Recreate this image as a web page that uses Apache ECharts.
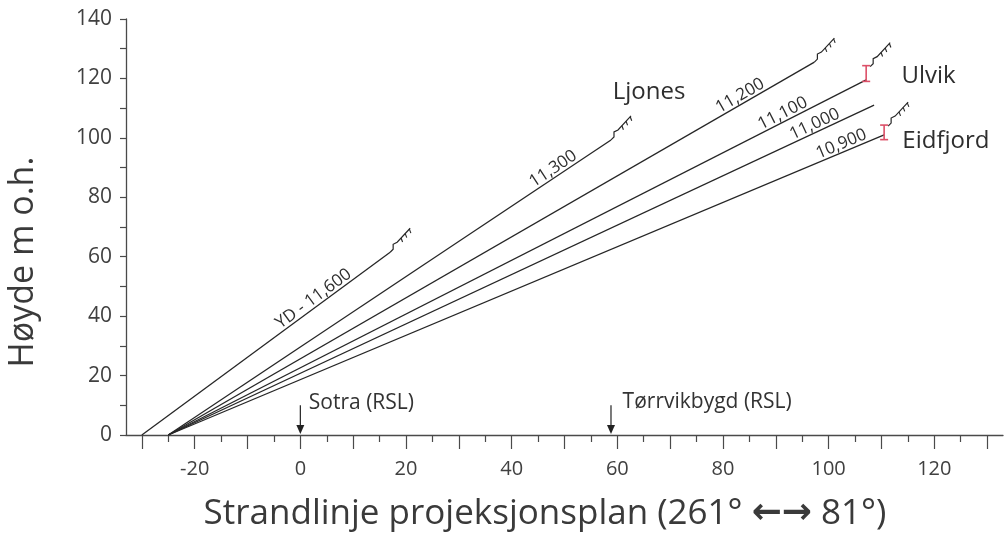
<!DOCTYPE html>
<html><head><meta charset="utf-8">
<script src="https://cdn.jsdelivr.net/npm/echarts@6/dist/echarts.min.js"></script>
<style>html,body{margin:0;padding:0;background:#fff}#c{width:1005px;height:535px}</style>
</head><body><div id="c"></div>
<script>
// ---- data ----
const lineNames = ['YD - 11,600', '11,300', '11,200', '11,100', '11,000', '10,900'];
const lineStartX = [-30, -25, -25, -25, -25, -25];
const lineEndX = [17, 58.8, 97.3, 107.1, 108.6, 110.5];
const lineEndY = [61.5, 99.3, 125.5, 119.5, 111, 101];
const lineLabelX = [3.4, 48.7, 84, 92, 98, 103];

const errX = [107.1, 110.5];
const errLow = [119, 99.4];
const errHigh = [124.3, 104.3];

const moraineX = [17, 58.8, 97.3, 107.1, 110.5];
const moraineY = [61.5, 99.3, 125.5, 124.3, 104.3];

const siteNames = ['Ljones', 'Ulvik', 'Eidfjord'];
const siteX = [66, 118.9, 122.2];
const siteY = [115.4, 120.8, 99];

const rslNames = ['Sotra (RSL)', 'Tørrvikbygd (RSL)'];
const rslX = [0, 58.8];
const rslArrowTop = 10;
const rslTextX = [1.6, 61];
const rslTextY = [10.9, 11.1];

const xTicksMajor = [-30, -20, -10, 0, 10, 20, 30, 40, 50, 60, 70, 80, 90, 100, 110, 120, 130];
const xTicksMinor = [-25, -15, -5, 5, 15, 25, 35, 45, 55, 65, 75, 85, 95, 105, 115, 125];
const xTickLabels = [-20, 0, 20, 40, 60, 80, 100, 120];
const yTickLabels = [0, 20, 40, 60, 80, 100, 120, 140];

const xTitleA = 'Strandlinje projeksjonsplan (261° ';
const xTitleArrows = '\u2190\u2192';
const xTitleB = ' 81°)';
const yTitle = 'Høyde m o.h.';

// ---- styles ----
const FONT = '"Open Sans", "Noto Sans", sans-serif';
const AX = '#4a4a4a';
const LINE = '#262626';
const RED = '#dc5068';

const chart = echarts.init(document.getElementById('c'), null, {renderer: 'canvas'});

const lineSeries = lineNames.map((n, i) => ({
  type: 'line', name: n, silent: true, symbol: 'none', animation: false,
  data: [[lineStartX[i], 0], [lineEndX[i], lineEndY[i]]],
  lineStyle: {color: LINE, width: 1.3}, z: 3
}));

function moraineShape(p) {
  const pts = [[0,0],[3,-3],[3,-8],[7,-10],[20,-24]].map(q => [p[0]+q[0], p[1]+q[1]]);
  const children = [{type: 'polyline', shape: {points: pts}, style: {stroke: LINE, lineWidth: 1.2, fill: null}}];
  const a = pts[3], b = pts[4];
  [0.3, 0.62, 0.94].forEach(t => {
    const x = a[0] + (b[0]-a[0])*t, y = a[1] + (b[1]-a[1])*t;
    children.push({type: 'line', shape: {x1: x, y1: y, x2: x + 1.5, y2: y + 4}, style: {stroke: LINE, lineWidth: 1.1}});
  });
  return children;
}

const option = {
  animation: false,
  textStyle: {fontFamily: FONT},
  grid: {left: 126, right: 2, top: 19, bottom: 100, containLabel: false, outerBoundsMode: 'none'},
  xAxis: [{
    type: 'value', min: -33, max: 133, position: 'bottom',
    axisLine: {show: true, onZero: false, lineStyle: {color: AX, width: 1.3}},
    axisTick: {show: true, length: 14, customValues: xTicksMajor, lineStyle: {color: AX, width: 1.2}},
    axisLabel: {customValues: xTickLabels, fontSize: 20, color: '#404040', margin: 24, fontFamily: FONT},
    splitLine: {show: false}
  }, {
    type: 'value', min: -33, max: 133, gridIndex: 0, position: 'bottom', offset: 0,
    axisLine: {show: false, onZero: false},
    axisTick: {show: true, length: 7, customValues: xTicksMinor, lineStyle: {color: AX, width: 1.2}},
    axisLabel: {show: false},
    splitLine: {show: false}
  }],
  yAxis: {
    type: 'value', min: 0, max: 140, interval: 10,
    axisLine: {show: true, onZero: false, lineStyle: {color: AX, width: 1.3}},
    axisTick: {show: true, length: 6, lineStyle: {color: AX, width: 1.2}},
    axisLabel: {fontSize: 21, color: '#404040', margin: 14, fontFamily: FONT,
      formatter: v => (yTickLabels.indexOf(v) >= 0 ? String(v) : '')},
    splitLine: {show: false}
  },
  graphic: [{
    type: 'text', x: 23, y: 262, rotation: Math.PI/2,
    style: {text: yTitle, font: '34px ' + FONT, fill: '#3a3a3a', align: 'center', verticalAlign: 'middle'}
  }, {
    type: 'text', x: 545, y: 514,
    style: {
      text: '{a|' + xTitleA + '}{b|' + xTitleArrows + '}{a|' + xTitleB + '}',
      align: 'center', verticalAlign: 'middle',
      rich: {
        a: {fontSize: 35, fontFamily: FONT, fill: '#3a3a3a', color: '#3a3a3a'},
        b: {fontSize: 36, fontFamily: '"DejaVu Sans"', fontWeight: 'bold', fill: '#3a3a3a', color: '#3a3a3a'}
      }
    }
  }],
  series: lineSeries.concat([
    {
      type: 'custom', silent: true, z: 4,
      data: lineNames.map((n, i) => [lineLabelX[i], 0]),
      renderItem: (params, api) => {
        const i = params.dataIndex;
        const p0 = api.coord([lineStartX[i], 0]), p1 = api.coord([lineEndX[i], lineEndY[i]]);
        const ang = Math.atan2(p0[1]-p1[1], p1[0]-p0[0]);
        const lx = lineLabelX[i];
        const ly = lineEndY[i]*(lx-lineStartX[i])/(lineEndX[i]-lineStartX[i]);
        const p = api.coord([lx, ly]);
        const off = 8;
        return {type: 'text', x: p[0] - Math.sin(ang)*off, y: p[1] - Math.cos(ang)*off, rotation: ang,
          style: {text: lineNames[i], font: '17px ' + FONT, fill: '#2e2e2e', align: 'center', verticalAlign: 'middle'}};
      }
    },
    {
      type: 'custom', silent: true, z: 4,
      data: moraineX.map((x, i) => [x, moraineY[i]]),
      renderItem: (params, api) => {
        const i = params.dataIndex;
        let p = api.coord([moraineX[i], moraineY[i]]);
        if (i >= 3) p = [p[0] + 4, p[1] + 1];
        return {type: 'group', children: moraineShape(p)};
      }
    },
    {
      type: 'custom', silent: true, z: 5,
      data: errX.map((x, i) => [x, errLow[i], errHigh[i]]),
      renderItem: (params, api) => {
        const lo = api.coord([api.value(0), api.value(1)]);
        const hi = api.coord([api.value(0), api.value(2)]);
        const w = 4;
        const st = {stroke: RED, lineWidth: 1.6};
        return {type: 'group', children: [
          {type: 'line', shape: {x1: lo[0], y1: lo[1], x2: hi[0], y2: hi[1]}, style: st},
          {type: 'line', shape: {x1: lo[0]-w, y1: lo[1], x2: lo[0]+w, y2: lo[1]}, style: st},
          {type: 'line', shape: {x1: hi[0]-w, y1: hi[1], x2: hi[0]+w, y2: hi[1]}, style: st}
        ]};
      }
    },
    {
      type: 'custom', silent: true, z: 5,
      data: siteNames.map((n, i) => [siteX[i], siteY[i]]),
      renderItem: (params, api) => {
        const i = params.dataIndex;
        const p = api.coord([siteX[i], siteY[i]]);
        return {type: 'text', x: p[0], y: p[1],
          style: {text: siteNames[i], font: '24px ' + FONT, fill: '#2e2e2e', align: 'center', verticalAlign: 'middle'}};
      }
    },
    {
      type: 'custom', silent: true, z: 5,
      data: rslNames.map((n, i) => [rslX[i], rslArrowTop]),
      renderItem: (params, api) => {
        const i = params.dataIndex;
        const top = api.coord([rslX[i], rslArrowTop]);
        const bot = api.coord([rslX[i], 0]);
        const tp = api.coord([rslTextX[i], rslTextY[i]]);
        return {type: 'group', children: [
          {type: 'line', shape: {x1: top[0], y1: top[1], x2: bot[0], y2: bot[1] - 6}, style: {stroke: '#222', lineWidth: 1.2}},
          {type: 'polygon', shape: {points: [[bot[0]-4, bot[1]-10], [bot[0]+4, bot[1]-10], [bot[0], bot[1]-1]]}, style: {fill: '#222'}},
          {type: 'text', x: tp[0], y: tp[1], style: {text: rslNames[i], font: '21px ' + FONT, fill: '#333', align: 'left', verticalAlign: 'middle'}}
        ]};
      }
    }
  ])
};
chart.setOption(option);
</script>
</body></html>
